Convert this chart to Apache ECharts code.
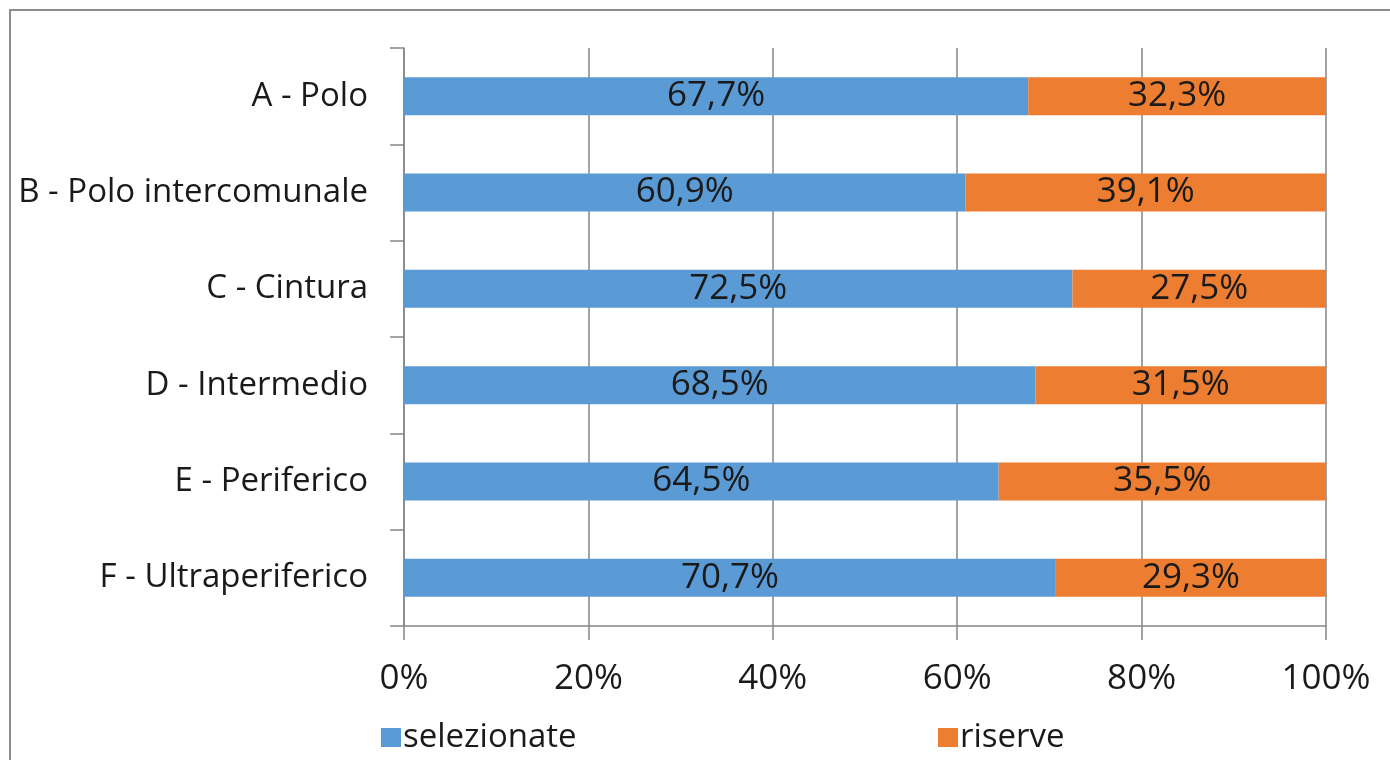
<!DOCTYPE html>
<html>
<head>
<meta charset="utf-8">
<script src="https://cdn.jsdelivr.net/npm/echarts@6/dist/echarts.min.js"></script>
<style>
  html, body { margin: 0; padding: 0; background: #fff; }
  .frame {
    position: absolute; left: 9px; top: 9px; width: 1381px; height: 751px;
    border-left: 2px solid #8c8c8c; border-top: 2px solid #8c8c8c;
  }
  #chart { position: absolute; left: 0; top: 0; width: 1390px; height: 760px; }
</style>
</head>
<body>
<div class="frame"></div>
<div id="chart"></div>
<script>
const categories = ['A - Polo', 'B - Polo intercomunale', 'C - Cintura', 'D - Intermedio', 'E - Periferico', 'F - Ultraperiferico']
const selezionate = [67.7, 60.9, 72.5, 68.5, 64.5, 70.7]
const riserve = [32.3, 39.1, 27.5, 31.5, 35.5, 29.3]
const xTicks = [0, 20, 40, 60, 80, 100]

const fontFamily = '"Open Sans", Lato, sans-serif'
const textSize = 33
const numSize = 35
const textColor = '#1a1a1a'
const lineColor = '#868686'

// etichette con la virgola decimale
const fmt = (v) => v.toFixed(1).replace('.', ',') + '%'

const chart = echarts.init(document.getElementById('chart'))

const legendText = { fontSize: textSize, color: textColor, fontFamily: fontFamily, padding: [0, 0, 0, -3] }

const option = {
  animation: false,
  textStyle: { fontFamily: fontFamily },
  grid: { left: 404, right: 64, top: 48, bottom: 134 },
  legend: [
    {
      data: ['selezionate'],
      left: 376, top: 716,
      itemWidth: 20, itemHeight: 19, itemGap: 0,
      icon: 'rect',
      textStyle: legendText
    },
    {
      data: ['riserve'],
      left: 933, top: 716,
      itemWidth: 20, itemHeight: 19, itemGap: 0,
      icon: 'rect',
      textStyle: legendText
    }
  ],
  xAxis: {
    type: 'value',
    min: 0, max: 100, interval: 20,
    axisLine: { show: true, lineStyle: { color: lineColor, width: 1.5 } },
    axisTick: { show: true, length: 14, lineStyle: { color: lineColor, width: 1.5 } },
    splitLine: { show: true, lineStyle: { color: lineColor, width: 1.5 } },
    axisLabel: {
      fontSize: numSize, color: textColor, margin: 36,
      formatter: (v) => xTicks.includes(v) ? v + '%' : ''
    }
  },
  yAxis: {
    type: 'category',
    inverse: true,
    data: categories,
    axisLine: { show: true, lineStyle: { color: lineColor, width: 1.5 } },
    axisTick: { show: true, length: 14, lineStyle: { color: lineColor, width: 1.5 } },
    axisLabel: { fontSize: textSize, color: textColor, margin: 36 }
  },
  series: [
    {
      name: 'selezionate',
      type: 'bar',
      stack: 'tot',
      barWidth: 38,
      data: selezionate,
      itemStyle: { color: '#5b9bd5' },
      label: { show: true, position: 'inside', fontSize: numSize, color: textColor, formatter: (p) => fmt(p.value) }
    },
    {
      name: 'riserve',
      type: 'bar',
      stack: 'tot',
      barWidth: 38,
      data: riserve,
      itemStyle: { color: '#ed7d31' },
      label: { show: true, position: 'inside', fontSize: numSize, color: textColor, formatter: (p) => fmt(p.value) }
    }
  ]
}

chart.setOption(option)
</script>
</body>
</html>
